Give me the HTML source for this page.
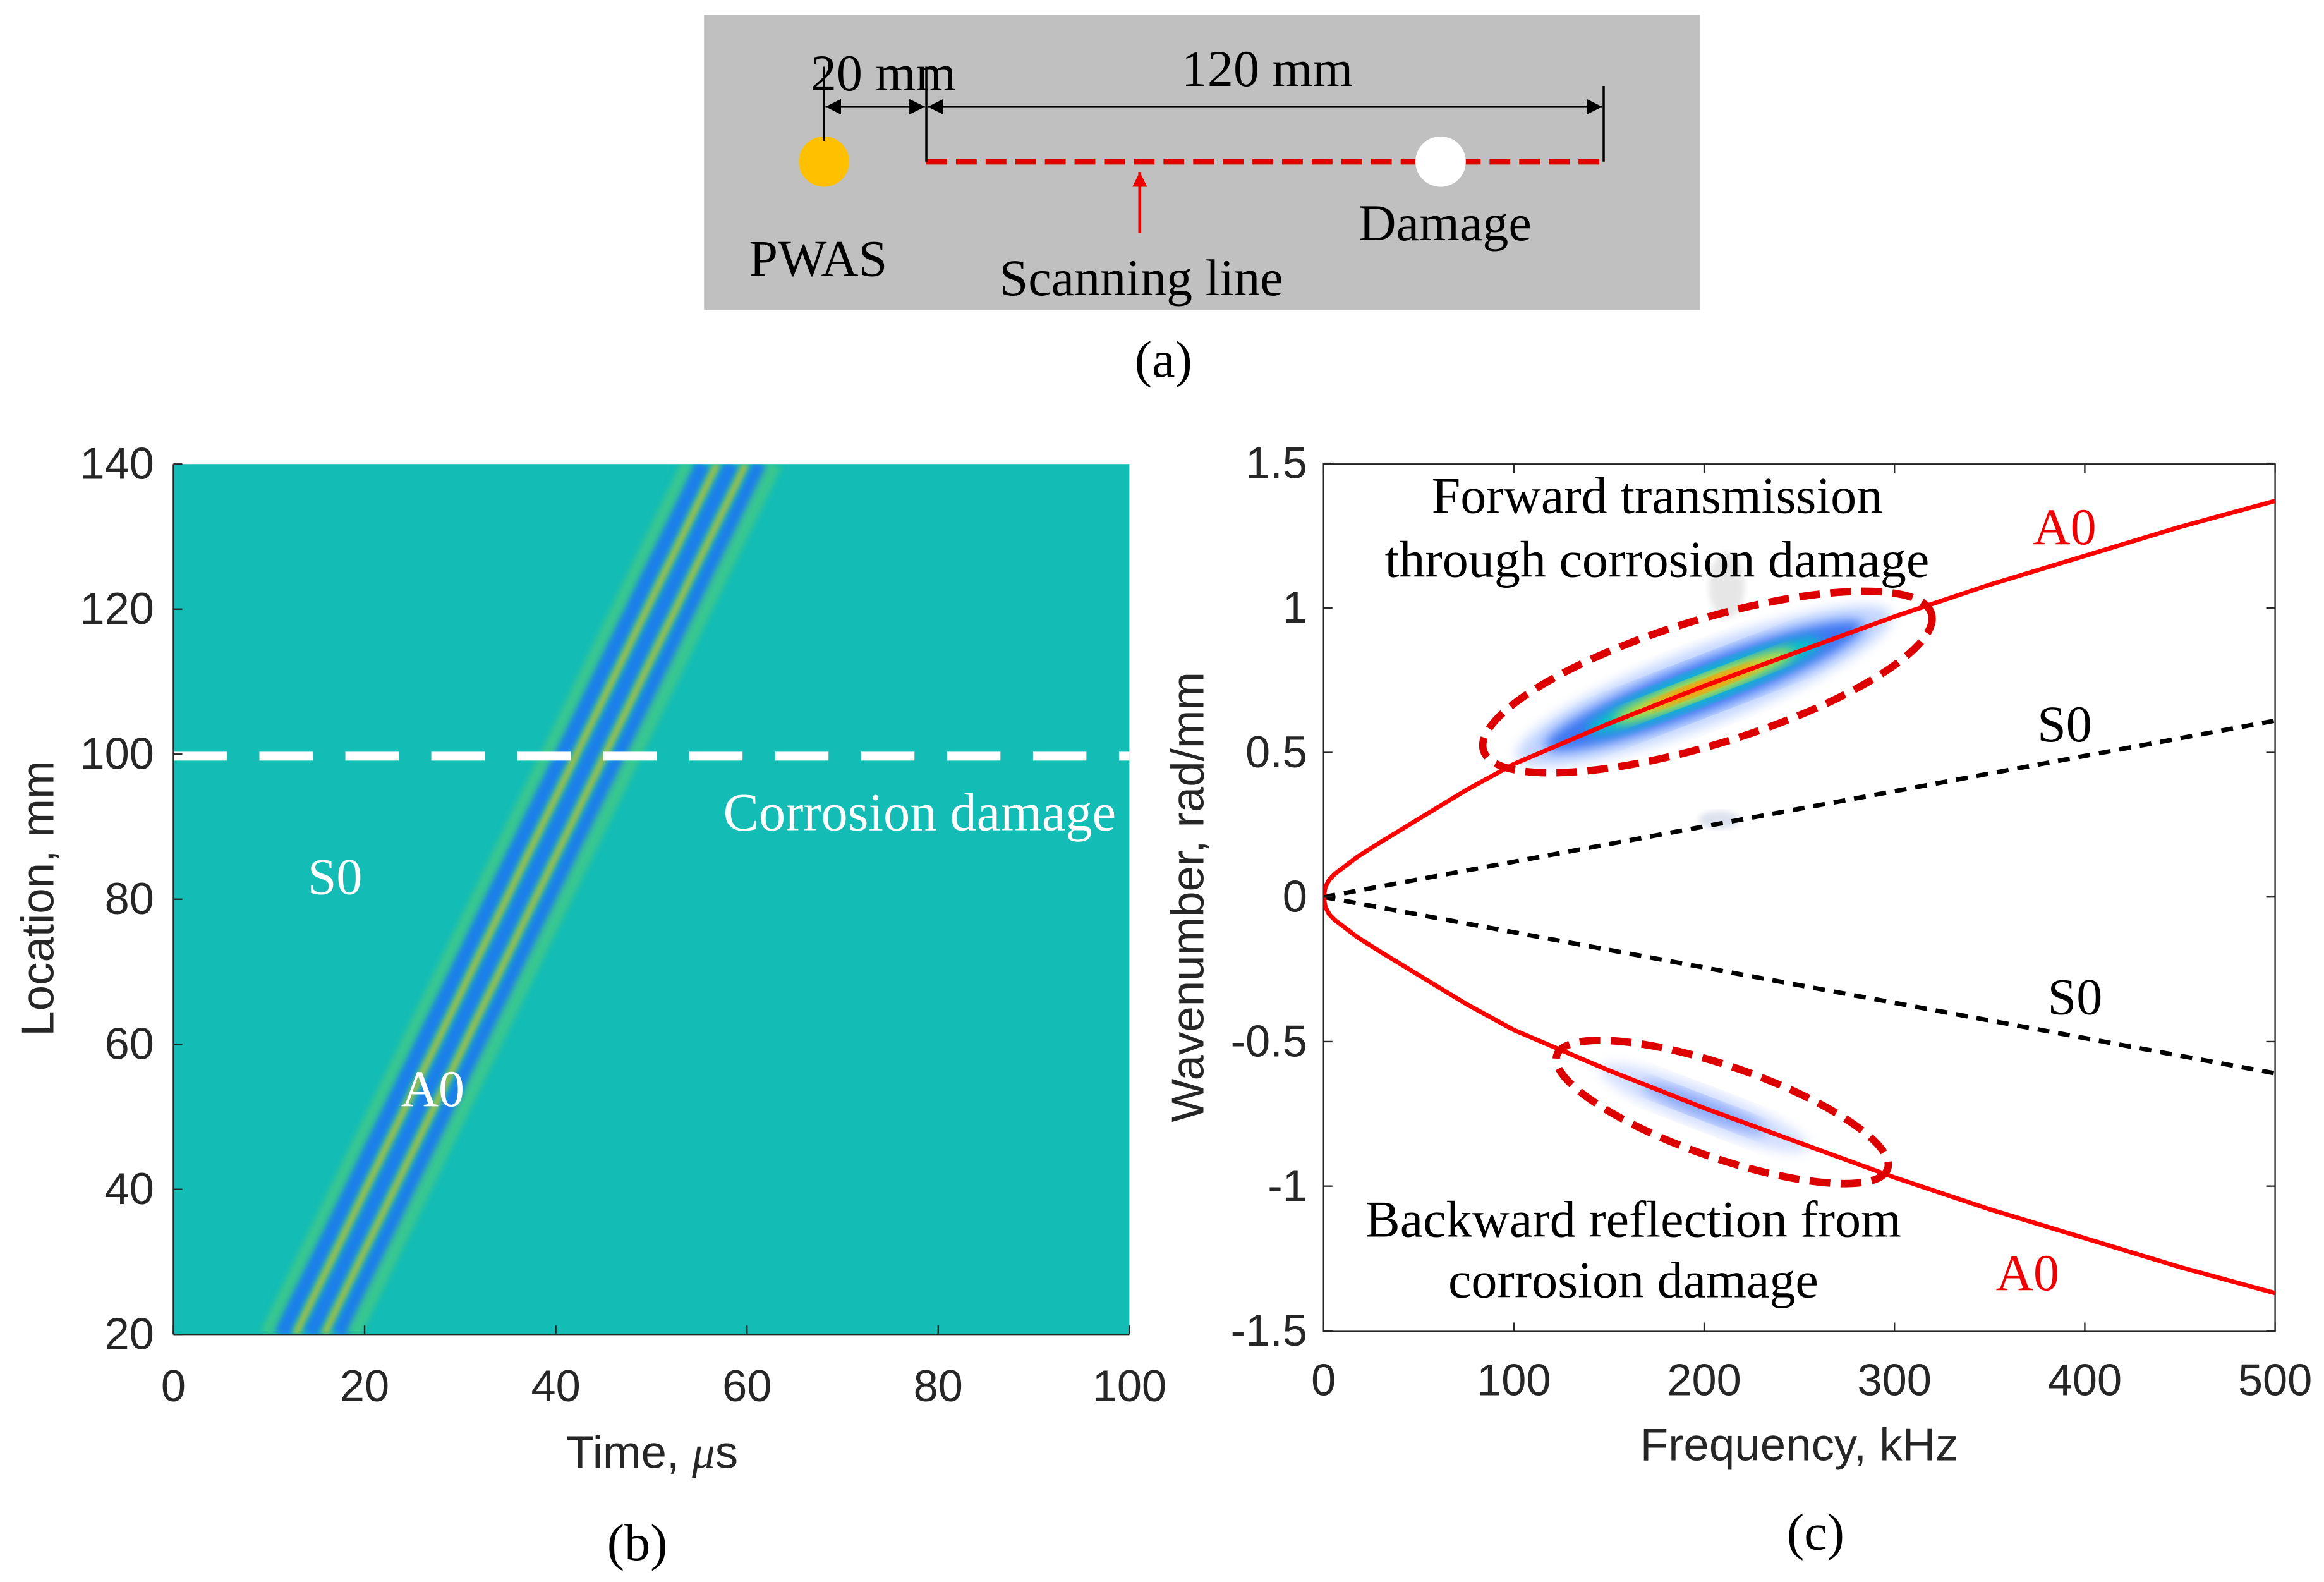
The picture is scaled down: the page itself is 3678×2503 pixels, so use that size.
<!DOCTYPE html>
<html><head><meta charset="utf-8"><style>
html,body{margin:0;padding:0;background:#fff;}
svg{display:block;}
.ser{font-family:"Liberation Serif",serif;}
.san{font-family:"Liberation Sans",sans-serif;}
</style></head><body>
<svg id="fig" width="3678" height="2503" viewBox="0 0 1568 1067" preserveAspectRatio="none" xmlns="http://www.w3.org/2000/svg">
<defs>
<marker id="arr" viewBox="0 0 10 10" refX="10" refY="5" markerWidth="7" markerHeight="7" orient="auto-start-reverse"><path d="M0,0 L10,5 L0,10 z" fill="#000"/></marker>
<marker id="rarr" viewBox="0 0 10 10" refX="10" refY="5" markerWidth="5" markerHeight="5" orient="auto"><path d="M0,0 L10,5 L0,10 z" fill="#e00"/></marker>
<clipPath id="clipB"><rect x="117" y="313" width="645" height="587"/></clipPath>
<clipPath id="clipC"><rect x="893" y="313" width="642" height="585"/></clipPath>
<filter id="blur2"><feGaussianBlur stdDeviation="2"/></filter>
<filter id="blur4"><feGaussianBlur stdDeviation="4"/></filter>
</defs>

<g>
<rect x="475" y="10" width="672" height="199" fill="#c0c0c0"/>
<circle cx="556" cy="109" r="17" fill="#ffc000"/>
<line x1="625" y1="109" x2="1082" y2="109" stroke="#e00000" stroke-width="4" stroke-dasharray="14,6"/>
<circle cx="972" cy="109" r="17" fill="#fff"/>
<line x1="556" y1="45" x2="556" y2="95" stroke="#000" stroke-width="1.5"/>
<line x1="625" y1="45" x2="625" y2="109" stroke="#000" stroke-width="1.5"/>
<line x1="1082" y1="58" x2="1082" y2="109" stroke="#000" stroke-width="1.5"/>
<line x1="557" y1="72" x2="624" y2="72" stroke="#000" stroke-width="1.5" marker-start="url(#arr)" marker-end="url(#arr)"/>
<line x1="626" y1="72" x2="1081" y2="72" stroke="#000" stroke-width="1.5" marker-start="url(#arr)" marker-end="url(#arr)"/>
<text class="ser" x="596" y="61" font-size="35" text-anchor="middle">20 mm</text>
<text class="ser" x="855" y="58" font-size="35" text-anchor="middle">120 mm</text>
<text class="ser" x="552" y="186" font-size="35" text-anchor="middle">PWAS</text>
<line x1="769" y1="157" x2="769" y2="116" stroke="#e00" stroke-width="2" marker-end="url(#rarr)"/>
<text class="ser" x="770" y="199" font-size="35" text-anchor="middle">Scanning line</text>
<text class="ser" x="975" y="162" font-size="35" text-anchor="middle">Damage</text>
<text class="ser" x="785" y="254" font-size="35" text-anchor="middle">(a)</text>
</g>

<g id="panelB">
<rect x="117" y="313" width="645" height="587" fill="#13bcb5"/>
<g id="stripes" clip-path="url(#clipB)"></g>
<line x1="117" y1="510" x2="762" y2="510" stroke="#fff" stroke-width="6" stroke-dasharray="36,22"/>
<g id="axesB"></g>
<svg x="117" y="313" width="645" height="587" overflow="hidden">
<text class="ser" x="371" y="247" font-size="36" fill="#fff">Corrosion damage</text>
</svg>
<text class="ser" x="226" y="603" font-size="35" fill="#fff" text-anchor="middle">S0</text>
<text class="ser" x="292" y="746" font-size="35" fill="#fff" text-anchor="middle">A0</text>
<text class="san" x="440" y="990" font-size="31" fill="#262626" text-anchor="middle">Time, <tspan font-style="italic" font-family="Liberation Serif, serif">μ</tspan>s</text>
<text class="san" transform="translate(36,606) rotate(-90)" font-size="31" fill="#262626" text-anchor="middle">Location, mm</text>
<text class="ser" x="430" y="1052" font-size="35" text-anchor="middle">(b)</text>
</g>

<g id="panelC">
<rect x="893" y="313" width="642" height="585" fill="#fff" stroke="#262626" stroke-width="1"/>
<g id="blobs" clip-path="url(#clipC)"></g>
<g id="curves" clip-path="url(#clipC)"></g>
<g id="axesC"></g>
<ellipse cx="1152" cy="460" rx="158" ry="42" transform="rotate(-17 1152 460)" fill="none" stroke="#dd0000" stroke-width="5" stroke-dasharray="14,7"/>
<ellipse cx="1162" cy="750" rx="118" ry="31" transform="rotate(19 1162 750)" fill="none" stroke="#dd0000" stroke-width="5" stroke-dasharray="14,7"/>
<text class="ser" x="1118" y="346" font-size="35" text-anchor="middle">Forward transmission</text>
<text class="ser" x="1118" y="389" font-size="35" text-anchor="middle">through corrosion damage</text>
<text class="ser" x="1393" y="367" font-size="35" fill="#e00" text-anchor="middle">A0</text>
<text class="ser" x="1393" y="500" font-size="35" text-anchor="middle">S0</text>
<text class="ser" x="1400" y="684" font-size="35" text-anchor="middle">S0</text>
<text class="ser" x="1368" y="870" font-size="35" fill="#e00" text-anchor="middle">A0</text>
<text class="ser" x="1102" y="834" font-size="35" text-anchor="middle">Backward reflection from</text>
<text class="ser" x="1102" y="875" font-size="35" text-anchor="middle">corrosion damage</text>
<text class="san" x="1214" y="985" font-size="31" fill="#262626" text-anchor="middle">Frequency, kHz</text>
<text class="san" transform="translate(812,605) rotate(-90)" font-size="31" fill="#262626" text-anchor="middle">Wavenumber, rad/mm</text>
<text class="ser" x="1225" y="1045" font-size="35" text-anchor="middle">(c)</text>
</g>
</svg>
<script>
var NS="http://www.w3.org/2000/svg";
var bTimeTicks=[0,20,40,60,80,100];
var bLocTicks=[20,40,60,80,100,120,140];
var stripeOffsets=[-3,-1.5,0,1.5,3,4.5,6];
var stripeKinds=["g","b","y","b","y","b","g"];
var stripeSpeed=2.72;
var stripeStart=[12.8];
var a0Freq=[0,1,3,6,10,18,30,50,75,100,150,200,250,300,350,400,450,500];
var a0K=[0,0.035,0.06,0.08,0.1,0.14,0.19,0.27,0.37,0.46,0.6,0.73,0.85,0.97,1.08,1.18,1.28,1.37];
var s0Freq=[0,500];
var s0K=[0,0.61];
var fTicks=[0,100,200,300,400,500];
var kTicks=[-1.5,-1,-0.5,0,0.5,1,1.5];
var kTickLabels=["-1.5","-1","-0.5","0","0.5","1","1.5"];

function bx(t){return 117+t/100*645;}
function by(l){return 900-(l-20)/120*587;}
function cx(f){return 893+f/500*642;}
function cy(k){return 605-k/1.5*292.5;}
function mk(tag,attrs,parent){var e=document.createElementNS(NS,tag);for(var a in attrs)e.setAttribute(a,attrs[a]);parent.appendChild(e);return e;}

var sg=document.getElementById('stripes');
var col={g:"#5fd26a",b:"#1f78f0",y:"#d8c21a"};
var wid={g:10,b:10,y:4};
for(var i=0;i<stripeOffsets.length;i++){
  var t0=stripeStart[0]+stripeOffsets[i];
  var t1=t0+120/stripeSpeed;
  var k=stripeKinds[i];
  var ln=mk('line',{x1:bx(t0),y1:by(20),x2:bx(t1),y2:by(140),stroke:col[k],'stroke-width':wid[k],opacity:(k=="g"?0.5:0.9),filter:"url(#blur2)"},sg);
  
  
}
var ab=document.getElementById('axesB');
mk('line',{x1:117,y1:313,x2:117,y2:900,stroke:"#262626","stroke-width":1},ab);
mk('line',{x1:117,y1:900,x2:762,y2:900,stroke:"#262626","stroke-width":1},ab);
bTimeTicks.forEach(function(t){
  mk('line',{x1:bx(t),y1:900,x2:bx(t),y2:894,stroke:"#262626"},ab);
  var tx=mk('text',{x:bx(t),y:945,"font-size":30,"text-anchor":"middle",fill:"#262626","class":"san"},ab);tx.textContent=t;
  
  
});
bLocTicks.forEach(function(l){
  mk('line',{x1:117,y1:by(l),x2:123,y2:by(l),stroke:"#262626"},ab);
  var tx=mk('text',{x:104,y:by(l)+10,"font-size":30,"text-anchor":"end",fill:"#262626","class":"san"},ab);tx.textContent=l;
  
  
});

var bl=document.getElementById('blobs');
function blob(f,k,ang,layers,name){
  var px=cx(f),py=cy(k);
  layers.forEach(function(L){
    var e=mk('ellipse',{cx:px,cy:py,rx:L[0],ry:L[1],fill:L[2],opacity:L[3],transform:"rotate("+ang+" "+px+" "+py+")",filter:"url(#blur4)"},bl);
    
    
  });
}
blob(200,0.73,-21,[[135,26,"#aac4ff",0.7],[115,17,"#2f6cf0",0.9],[85,11,"#00c8c8",1],[65,7,"#e8e020",1],[40,4,"#ff8800",1]],'forward-energy-blob');
blob(200,-0.73,21,[[75,13,"#c8d6ff",0.8],[45,7,"#7a9cf5",0.8]],'backward-energy-blob');
mk('ellipse',{cx:1165,cy:395,rx:12,ry:22,fill:"#e6e6e6",filter:"url(#blur2)"},bl);
mk('ellipse',{cx:1160,cy:553,rx:14,ry:6,fill:"#dde2ee",filter:"url(#blur2)"},bl);

var cg=document.getElementById('curves');
function pts(F,K,sgn){return F.map(function(f,i){return cx(f)+","+cy(sgn*K[i]);}).join(" ");}
[1,-1].forEach(function(s){
  var p=mk('polyline',{points:pts(s0Freq,s0K,s),fill:"none",stroke:"#000","stroke-width":3,"stroke-dasharray":"8,6"},cg);
  
  
  var q=mk('polyline',{points:pts(a0Freq,a0K,s),fill:"none",stroke:"#ff0000","stroke-width":3,"stroke-linejoin":"round"},cg);
  
  
});
var ac=document.getElementById('axesC');
fTicks.forEach(function(f){
  mk('line',{x1:cx(f),y1:898,x2:cx(f),y2:892,stroke:"#262626"},ac);
  mk('line',{x1:cx(f),y1:313,x2:cx(f),y2:319,stroke:"#262626"},ac);
  var tx=mk('text',{x:cx(f),y:941,"font-size":30,"text-anchor":"middle",fill:"#262626","class":"san"},ac);tx.textContent=f;
  
  
});
kTicks.forEach(function(k,i){
  mk('line',{x1:893,y1:cy(k),x2:899,y2:cy(k),stroke:"#262626"},ac);
  mk('line',{x1:1535,y1:cy(k),x2:1529,y2:cy(k),stroke:"#262626"},ac);
  var tx=mk('text',{x:882,y:cy(k)+10,"font-size":30,"text-anchor":"end",fill:"#262626","class":"san"},ac);tx.textContent=kTickLabels[i];
  
  
});
</script>
</body></html>
